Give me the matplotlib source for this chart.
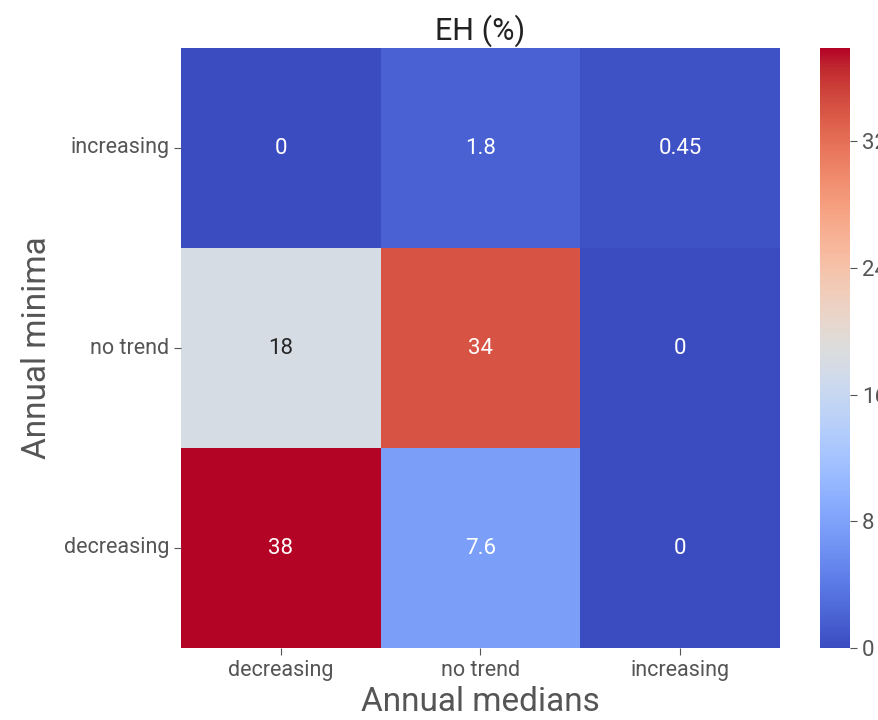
import matplotlib
matplotlib.use("Agg")
import matplotlib.pyplot as plt
import numpy as np
import seaborn as sns

rows = ["increasing", "no trend", "decreasing"]
cols = ["decreasing", "no trend", "increasing"]
values = [
    [0.0, 1.8, 0.45],
    [18.0, 34.0, 0.0],
    [37.9, 7.6, 0.0],
]
cbar_ticks = [0, 8, 16, 24, 32]

plt.rcParams['font.family'] = ['Roboto', 'DejaVu Sans']
gray = '#555555'

fig = plt.figure(figsize=(8.79, 7.2), dpi=100)
ax = fig.add_axes([181/879, 72/720, 599/879, 600/720])
cax = fig.add_axes([820/879, 72/720, 30/879, 600/720])

data = np.array(values)
sns.heatmap(data, ax=ax, cbar_ax=cax, cmap='coolwarm', annot=True, fmt='.2g',
            annot_kws={'fontsize': 16}, xticklabels=cols, yticklabels=rows,
            cbar_kws={'ticks': cbar_ticks})

ax.set_title("EH (%)", fontsize=22, color='#222222', pad=6)
ax.set_xlabel("Annual medians", fontsize=24, color=gray, labelpad=4)
ax.set_ylabel("Annual minima", fontsize=24, color=gray, labelpad=8)
ax.tick_params(axis='both', labelsize=15.5, colors=gray, length=5, width=0.8)
for lab in ax.get_xticklabels() + ax.get_yticklabels():
    lab.set_color(gray)
ax.tick_params(axis='y', rotation=0)
cax.tick_params(labelsize=16, colors=gray, length=5, width=0.8)
for s in cax.spines.values():
    s.set_visible(False)

fig.savefig("out.png", dpi=100)
